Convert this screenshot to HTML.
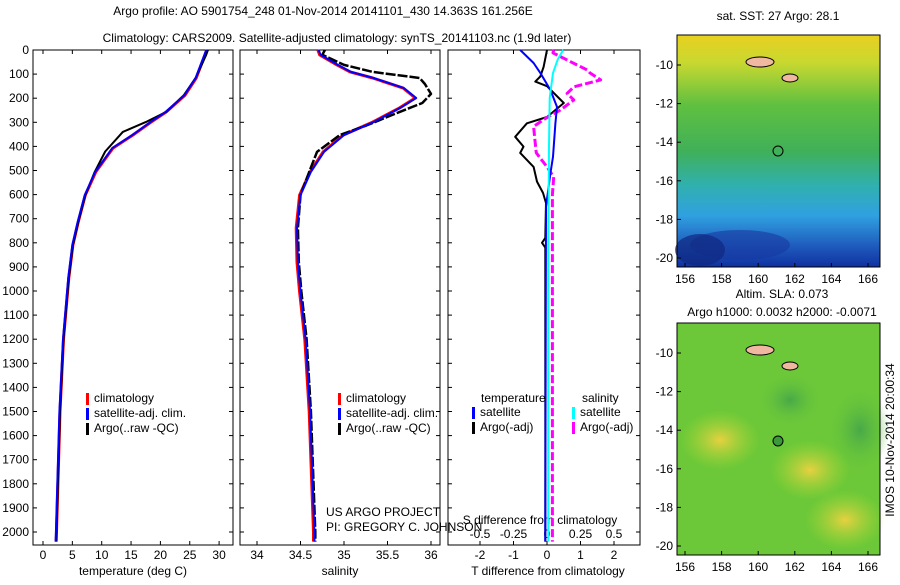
<!DOCTYPE html>
<html><head><meta charset="utf-8"><style>
body{margin:0;background:#fff;font-family:"Liberation Sans",sans-serif}
svg text{font-family:"Liberation Sans",sans-serif;font-size:12px;fill:#000}
</style></head><body>
<svg id="fig" width="900" height="580" viewBox="0 0 900 580">
<defs>
<linearGradient id="sst" x1="0" y1="0" x2="0" y2="1">
<stop offset="0" stop-color="#e8d020"/><stop offset="0.12" stop-color="#c8d830"/><stop offset="0.3" stop-color="#60c040"/><stop offset="0.5" stop-color="#40b058"/><stop offset="0.65" stop-color="#30b0b0"/><stop offset="0.78" stop-color="#30a0e0"/><stop offset="0.9" stop-color="#2060c0"/><stop offset="1" stop-color="#1030a0"/></linearGradient>
<radialGradient id="yel"><stop offset="0" stop-color="#e8d040"/><stop offset="1" stop-color="#a8d838" stop-opacity="0"/></radialGradient>
<radialGradient id="dg"><stop offset="0" stop-color="#48a848"/><stop offset="1" stop-color="#60c040" stop-opacity="0"/></radialGradient>
</defs>
<text x="323" y="15" text-anchor="middle">Argo profile: AO 5901754_248 01-Nov-2014 20141101_430 14.363S 161.256E</text>
<text x="337" y="42" text-anchor="middle">Climatology: CARS2009. Satellite-adjusted climatology: synTS_20141103.nc (1.9d later)</text>
<g id="p1"></g>
<g id="p2"></g>
<g id="p3"></g>
<g>
<text x="778" y="20" text-anchor="middle">sat. SST: 27 Argo: 28.1</text>
<rect x="677" y="35" width="203" height="232" fill="url(#sst)"/>
<ellipse cx="740" cy="245" rx="50" ry="15" fill="#1838a0" opacity="0.6"/>
<ellipse cx="700" cy="250" rx="25" ry="16" fill="#102880" opacity="0.7"/>
<circle cx="778" cy="151" r="5" fill="none" stroke="#000"/>
<ellipse cx="760" cy="62" rx="14" ry="5" fill="#f0b8a0" stroke="#000"/>
<ellipse cx="790" cy="78" rx="8" ry="4" fill="#f0b8a0" stroke="#000"/>
<rect x="677" y="35" width="203" height="232" fill="none" stroke="#000"/>
<text x="782" y="298" text-anchor="middle">Altim. SLA: 0.073</text>
<text x="782" y="316" text-anchor="middle">Argo h1000: 0.0032 h2000: -0.0071</text>
<rect x="677" y="323" width="203" height="232" fill="#6cc838"/>
<ellipse cx="720" cy="440" rx="40" ry="30" fill="url(#yel)"/>
<ellipse cx="810" cy="470" rx="40" ry="30" fill="url(#yel)"/>
<ellipse cx="845" cy="520" rx="40" ry="30" fill="url(#yel)"/>
<ellipse cx="790" cy="400" rx="30" ry="25" fill="url(#dg)"/>
<ellipse cx="860" cy="430" rx="30" ry="40" fill="url(#dg)"/>
<circle cx="778" cy="441" r="5" fill="#3a9a3a" stroke="#000"/>
<ellipse cx="760" cy="350" rx="14" ry="5" fill="#f0b8a0" stroke="#000"/>
<ellipse cx="790" cy="366" rx="8" ry="4" fill="#f0b8a0" stroke="#000"/>
<rect x="677" y="323" width="203" height="232" fill="none" stroke="#000"/>
<text transform="translate(894,440) rotate(-90)" text-anchor="middle">IMOS 10-Nov-2014 20:00:34</text>
</g>
<g id="maxes"></g>
</svg>
<script>
const tDepth=[0,20,116,187,257,299,353,407,506,602,714,809,946,1200,1500,2000,2040];
const tempClim=[27.9,27.6,26.1,24.2,21,18.4,15.3,11.9,9.0,7.2,6.0,5.1,4.4,3.5,2.9,2.3,2.25];
const aDepth=[0,20,116,187,257,299,340,421,506,602,714,809,946,1200,1500,2000,2040];
const tempArgo=[28.1,27.8,26.0,24.0,21,17.5,13.6,10.6,8.8,7.2,6.0,5.1,4.4,3.5,2.9,2.3,2.25];
const sDepth=[0,20,62,91,116,158,199,240,299,353,423,506,602,739,880,1004,1200,1500,2000,2040];
const salClim=[34.7,34.72,34.92,35.07,35.33,35.68,35.82,35.64,35.33,34.99,34.76,34.61,34.49,34.45,34.46,34.49,34.55,34.6,34.65,34.65];
const saDepth=[0,20,62,91,116,141,182,220,257,313,353,423,506,602,739,880,1004,1200,1500,2000,2040];
const salArgo=[34.78,34.75,35.0,35.33,35.87,35.93,36.0,35.9,35.64,35.26,34.95,34.69,34.6,34.5,34.47,34.48,34.51,34.57,34.62,34.67,34.67];
const dTsDepth=[0,54,95,166,236,304,443,512,650,2040];
const dTsat=[-0.8,-0.4,-0.2,0.1,0.3,0.25,0.18,0.1,-0.03,-0.05];
const dTaDepth=[0,70,110,131,150,220,278,304,360,401,427,485,546,593,635,780,800,820,2040];
const dTargo=[0,-0.1,-0.2,-0.35,0,0.5,0,-0.6,-0.95,-0.7,-0.8,-0.4,-0.3,-0.12,-0.03,-0.05,-0.15,-0.05,-0.05];
const dSsDepth=[0,40,95,200,400,800,2040];
const dSsat=[0.12,0.08,0.045,0.02,0.015,0.01,0.01];
const dSaDepth=[0,12,83,95,124,153,180,207,249,290,318,373,427,485,527,600,2040];
const dSargo=[0.05,0.045,0.3,0.32,0.4,0.2,0.15,0.2,0.1,-0.03,-0.1,-0.09,-0.08,0,0.05,0.04,0.04];
const depthTicks=[0,100,200,300,400,500,600,700,800,900,1000,1100,1200,1300,1400,1500,1600,1700,1800,1900,2000];
const tempTicks=[0,5,10,15,20,25,30];
const salTicks=[34,34.5,35,35.5,36];
const dTTicks=[-2,-1,0,1,2];
const dSTicks=["-0.5","-0.25","0","0.25","0.5"];
const lonTicks=[156,158,160,162,164,166];
const latTicks=[-10,-12,-14,-16,-18,-20];
const NS='http://www.w3.org/2000/svg';
function mk(p,t,a,txt){const e=document.createElementNS(NS,t);for(const k in a)e.setAttribute(k,a[k]);if(txt!==undefined)e.textContent=txt;p.appendChild(e);return e;}
const Y=d=>50+d*0.241;
function line(g,ds,xs,x,col,w,dash,name){const pts=ds.map((d,i)=>x(xs[i]).toFixed(1)+','+Y(d).toFixed(1)).join(' ');
const e=mk(g,'polyline',{points:pts,fill:'none',stroke:col,'stroke-width':w,'stroke-linejoin':'round'});if(dash)e.setAttribute('stroke-dasharray',dash);

}
function frame(g,x0,x1,left){mk(g,'rect',{x:x0,y:50,width:x1-x0,height:495,fill:'none',stroke:'#000'});
depthTicks.forEach(d=>{mk(g,'line',{x1:x0,x2:x0+4,y1:Y(d),y2:Y(d),stroke:'#000'});mk(g,'line',{x1:x1,x2:x1-4,y1:Y(d),y2:Y(d),stroke:'#000'});
if(left){const t=mk(g,'text',{x:x0-4,y:Y(d)+4,'text-anchor':'end'},d);}});}
function legend(g,x,y,items){items.forEach((it,i)=>{mk(g,'rect',{x:x,y:y+i*15-9,width:3,height:12,fill:it[1]});const t=mk(g,'text',{x:x+8,y:y+i*15},it[0]);

});}
// panel 1
const p1=document.getElementById('p1');const xT=v=>43+v*5.87;frame(p1,33,233,true);
tempTicks.forEach(v=>{mk(p1,'line',{x1:xT(v),x2:xT(v),y1:545,y2:541,stroke:'#000'});mk(p1,'line',{x1:xT(v),x2:xT(v),y1:50,y2:54,stroke:'#000'});mk(p1,'text',{x:xT(v),y:559,'text-anchor':'middle'},v);});
mk(p1,'text',{x:133,y:575,'text-anchor':'middle'},'temperature (deg C)');
line(p1,tDepth,tempClim,xT,'#f00',3,null,'temp-climatology-line');
line(p1,aDepth,tempArgo,xT,'#000',2,null,'temp-argo-line');
line(p1,tDepth,tempClim.map(v=>v-0.1),xT,'#00f',2,null,'temp-satellite-line');
legend(p1,86,402,[['climatology','#f00'],['satellite-adj. clim.','#00f'],['Argo(..raw -QC)','#000']]);
// panel 2
const p2=document.getElementById('p2');const xS=v=>257+(v-34)*87;frame(p2,240,440,false);
salTicks.forEach(v=>{mk(p2,'line',{x1:xS(v),x2:xS(v),y1:545,y2:541,stroke:'#000'});mk(p2,'line',{x1:xS(v),x2:xS(v),y1:50,y2:54,stroke:'#000'});mk(p2,'text',{x:xS(v),y:559,'text-anchor':'middle'},v);});
mk(p2,'text',{x:340,y:575,'text-anchor':'middle'},'salinity');
line(p2,sDepth,salClim,xS,'#f00',3,null,'sal-climatology-line');
line(p2,saDepth,salArgo,xS,'#000',2.5,'10,2','sal-argo-line');
line(p2,sDepth,salClim.map(v=>v+0.01),xS,'#00f',2,null,'sal-satellite-line');
legend(p2,338,402,[['climatology','#f00'],['satellite-adj. clim.','#00f'],['Argo(..raw -QC)','#000']]);
mk(p2,'text',{x:326,y:516},'US ARGO PROJECT');mk(p2,'text',{x:326,y:531},'PI: GREGORY C. JOHNSON');
// panel 3
const p3=document.getElementById('p3');const xD=v=>547+v*33.5;const xDs=v=>547+v*134;frame(p3,448,640,false);
dTTicks.forEach(v=>{mk(p3,'line',{x1:xD(v),x2:xD(v),y1:545,y2:541,stroke:'#000'});mk(p3,'text',{x:xD(v),y:559,'text-anchor':'middle'},v);});
dSTicks.forEach(v=>{mk(p3,'line',{x1:xDs(+v),x2:xDs(+v),y1:50,y2:54,stroke:'#000'});mk(p3,'text',{x:xDs(+v),y:538,'text-anchor':'middle'},v);});
mk(p3,'text',{x:540,y:524,'text-anchor':'middle'},'S difference from climatology');
mk(p3,'text',{x:548,y:575,'text-anchor':'middle'},'T difference from climatology');
line(p3,dTaDepth,dTargo,xD,'#000',2,null,'dT-argo-line');
line(p3,dSaDepth,dSargo,xDs,'#f0f',3,'8,3','dS-argo-line');
line(p3,dTsDepth,dTsat,xD,'#00f',2,null,'dT-satellite-line');
line(p3,dSsDepth,dSsat,xDs,'#0ff',2,null,'dS-satellite-line');
mk(p3,'text',{x:481,y:402},'temperature');mk(p3,'text',{x:582,y:402},'salinity');
legend(p3,472,416,[['satellite','#00f'],['Argo(-adj)','#000']]);
legend(p3,572,416,[['satellite','#0ff'],['Argo(-adj)','#f0f']]);
// map axes
const ma=document.getElementById('maxes');const xL=v=>685+(v-156)*18.3;
[[35,65],[323,353]].forEach(([top,y10])=>{const bot=top+232;
lonTicks.forEach(v=>{mk(ma,'line',{x1:xL(v),x2:xL(v),y1:bot,y2:bot-4,stroke:'#000'});mk(ma,'text',{x:xL(v),y:bot+16,'text-anchor':'middle'},v);});
latTicks.forEach(v=>{const y=y10+(-10-v)*19.3;mk(ma,'line',{x1:677,x2:681,y1:y,y2:y,stroke:'#000'});mk(ma,'text',{x:673,y:y+4,'text-anchor':'end'},v);});});
</script>
</body></html>
